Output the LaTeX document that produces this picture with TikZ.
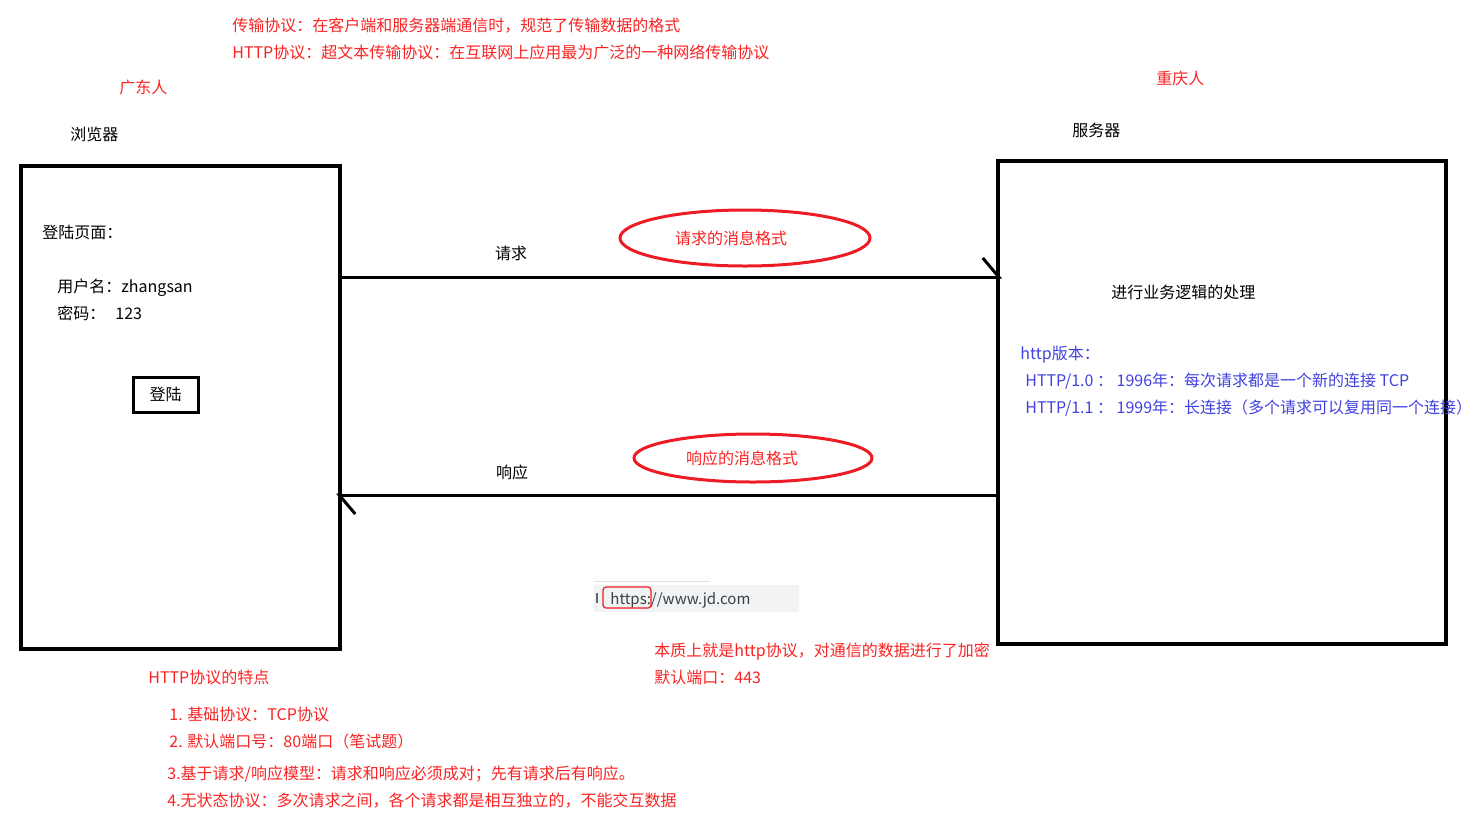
\documentclass[tikz,border=0pt]{standalone}
\usepackage{fontspec}
\setmainfont{Noto Sans CJK SC}
\usetikzlibrary{arrows.meta,positioning,shapes.geometric}
\definecolor{notered}{RGB}{250,35,35}
\definecolor{inkred}{RGB}{237,28,36}
\definecolor{noteblue}{RGB}{65,65,225}
\definecolor{urlbar}{RGB}{241,243,244}
\definecolor{urlink}{RGB}{60,64,67}
\tikzset{
  txt/.style     = {anchor=west, inner sep=0pt, font=\fontsize{8pt}{10pt}\selectfont,
                    text height=7pt, text depth=1pt},
  redtxt/.style  = {txt, text=notered},
  bluetxt/.style = {txt, text=noteblue},
  frame/.style   = {draw, line width=2pt, minimum width=159.5pt, minimum height=241.5pt},
  btn/.style     = {draw, line width=1.5pt, minimum width=32.5pt, minimum height=17.5pt,
                    inner sep=0pt, font=\fontsize{8pt}{10pt}\selectfont},
  oval/.style    = {draw=inkred, ellipse, line width=1.5pt, inner sep=0pt, text=notered,
                    font=\fontsize{8pt}{10pt}\selectfont},
  ar/.style      = {-{Straight Barb[harpoon,length=8pt,width=19pt]}, line width=1.5pt,
                    shorten >=-3pt}
}

\begin{document}
\begin{tikzpicture}[x=0.5pt, y=-0.5pt]
\useasboundingbox (0,0) rectangle (1479,836);
% ---------------- notes on top ----------------
\node[redtxt] (proto) at (232,25) {传输协议：在客户端和服务器端通信时，规范了传输数据的格式};
\node[redtxt] (httpdef) at (232,52) {HTTP协议：超文本传输协议：在互联网上应用最为广泛的一种网络传输协议};
\node[redtxt] (gd) at (119,87) {广东人};
\node[redtxt] (cq) at (1156,78) {重庆人};

% ---------------- browser ----------------
\node[txt] (browsername) at (70,134) {浏览器};
\node[frame] (browser) at (180.5,407.5) {};
\node[txt] (loginpage) at (42,232) {登陆页面：};
\node[txt] (user) at (57,286) {用户名：zhangsan};
\node[txt] (pwd) at (57,313) {密码：\hspace{5pt}123};
\node[btn] (loginbtn) at (165.5,394.5) {登陆};

% ---------------- server ----------------
\node[txt] (servername) at (1072,130) {服务器};
\node[frame, minimum width=224pt] (server) at (1222,402.5) {};
\node[txt] (logic) at (1111,292) {进行业务逻辑的处理};
\node[bluetxt] (ver) at (1020,353) {http版本：};
\node[bluetxt] (ver10) at (1025,380) {HTTP/1.0 ： 1996年：每次请求都是一个新的连接 TCP};
\node[bluetxt] (ver11) at (1025,407) {HTTP/1.1 ： 1999年：长连接（多个请求可以复用同一个连接）};

% ---------------- request / response ----------------
\coordinate (reqlvl) at (0,277);
\coordinate (reslvl) at (0,495);
\draw[ar] (browser.east |- reqlvl) -- (server.west |- reqlvl);
\draw[ar] (server.west |- reslvl) -- (browser.east |- reslvl);
\node[txt, anchor=center] (req) at (511,253) {请求};
\node[txt, anchor=center] (res) at (512,472) {响应};
\node[oval, minimum width=125pt, minimum height=28pt] (reqfmt) at (745,238)
      {\kern-14pt 请求的消息格式};
\node[oval, minimum width=119pt, minimum height=24pt] (resfmt) at (753,458)
      {\kern-11pt 响应的消息格式};

% ---------------- https ----------------
\draw[gray!25, line width=0.5pt] (594,581) -- (710,581);
\node[fill=urlbar, minimum width=102.5pt, minimum height=13.5pt, inner sep=0pt] (urlbox) at (696.5,598.5) {};
\node[fill=urlink!80, minimum width=1pt, minimum height=5pt, inner sep=0pt] (lock) at (597,598) {};
\node[draw=inkred, line width=0.6pt, rounded corners=1.5pt, minimum width=24pt,
      minimum height=10.5pt, inner sep=0pt] (scheme) at (627,597.5) {};
\node[txt, text=urlink, font=\fontsize{7.5pt}{9pt}\selectfont] (url) at (610,598) {https://www.jd.com};
\node[redtxt] (tls) at (654,650) {本质上就是http协议，对通信的数据进行了加密};
\node[redtxt] (port443) at (654,677) {默认端口：443};

% ---------------- features ----------------
\node[redtxt] (feat) at (148,677) {HTTP协议的特点};
\node[redtxt] (f1) at (169,714) {1. 基础协议：TCP协议};
\node[redtxt] (f2) at (169,741) {2. 默认端口号：80端口（笔试题）};
\node[redtxt] (f3) at (167,773) {3.基于请求/响应模型：请求和响应必须成对；先有请求后有响应。};
\node[redtxt] (f4) at (167,800) {4.无状态协议：多次请求之间，各个请求都是相互独立的，不能交互数据};

\end{tikzpicture}
\end{document}
